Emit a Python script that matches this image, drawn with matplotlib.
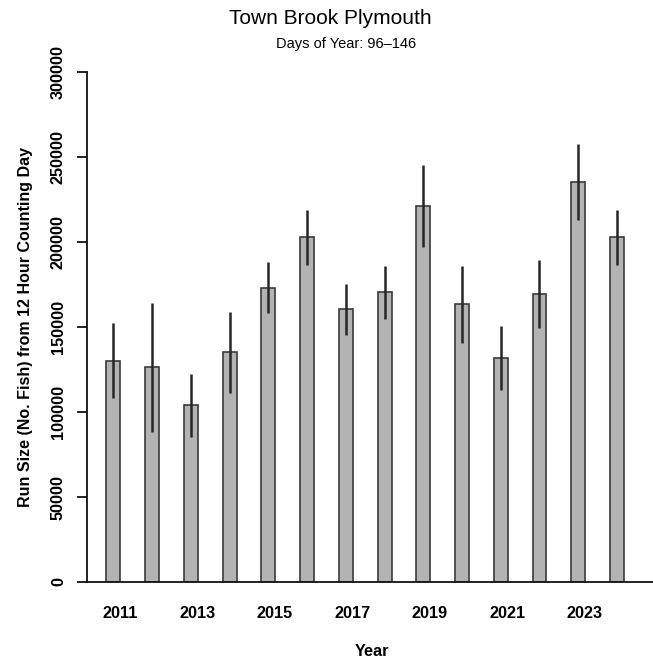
import matplotlib
matplotlib.use("Agg")
import matplotlib.pyplot as plt
import numpy as np

years = [2011, 2012, 2013, 2014, 2015, 2016, 2017, 2018, 2019, 2020, 2021, 2022, 2023, 2024]
run_size = [130000, 126300, 104000, 135100, 173100, 202700, 160400, 170400, 221200, 163500, 132000, 169200, 235100, 202700]
ci_lower = [108200, 88000, 85500, 111000, 158000, 186500, 145300, 154700, 197300, 140800, 112900, 149200, 212900, 186500]
ci_upper = [152400, 164000, 122400, 159000, 188000, 218800, 175100, 185900, 245100, 186100, 150800, 189400, 257500, 218800]
y_ticks = [0, 50000, 100000, 150000, 200000, 250000, 300000]

plt.rcParams["font.family"] = ["Liberation Sans", "DejaVu Sans"]

W, H = 653, 663
fig = plt.figure(figsize=(W / 100, H / 100), dpi=100)
ax = fig.add_axes([87 / W, (H - 582) / H, (W - 87) / W, 510 / H])

x = np.arange(len(years))
ax.bar(x, run_size, width=0.36, color="#b3b3b3", edgecolor="#3a3a3a", linewidth=1.2, zorder=2)
ax.vlines(x, ci_lower, ci_upper, color="#262626", linewidth=1.8, zorder=3)

ax.set_xlim(-0.68, 13.93)
ax.set_ylim(0, 300000)

ax.spines["top"].set_visible(False)
ax.spines["right"].set_visible(False)
for s in ("left", "bottom"):
    ax.spines[s].set_linewidth(1.3)
    ax.spines[s].set_color("#111111")

ax.set_yticks(y_ticks)
ax.set_yticklabels([str(t) for t in y_ticks], rotation=90, va="center",
                   fontsize=11.7, fontweight="bold")
ax.tick_params(axis="y", length=7.2, width=1.3, pad=8, color="#111111")

# label every other year, nudged slightly right of the bar centre
shown = [i for i in range(len(years)) if i % 2 == 0]
ax.set_xticks([i + 0.17 for i in shown])
ax.set_xticklabels([str(years[i]) for i in shown], fontsize=11.7, fontweight="bold")
ax.tick_params(axis="x", length=0, pad=17)

ax.set_xlabel("Year", fontsize=11.7, fontweight="bold", va="center", ha="center")
ax.xaxis.set_label_coords((372 - 87) / (W - 87), -(652 - 582) / 510)
ax.set_ylabel("Run Size (No. Fish) from 12 Hour Counting Day", fontsize=11.5,
              fontweight="bold", va="center", ha="center")
ax.yaxis.set_label_coords(-(87 - 26) / (W - 87), 0.5)

fig.text(330 / W, 1 - 18 / H, "Town Brook Plymouth", ha="center", va="center", fontsize=15)
fig.text(346 / W, 1 - 44 / H, "Days of Year: 96\u2013146", ha="center", va="center", fontsize=10.5)

fig.savefig("out.png", dpi=100)
